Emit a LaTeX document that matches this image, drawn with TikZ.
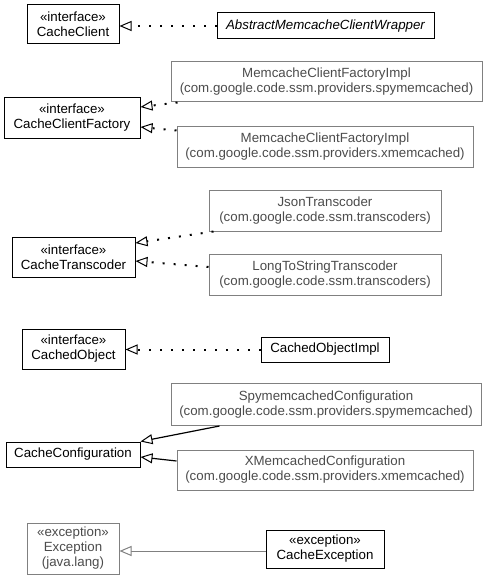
\documentclass[tikz,border=0pt]{standalone}
\usepackage{fontspec}
\setmainfont{Liberation Sans}
\usetikzlibrary{arrows.meta}
\begin{document}
\begin{tikzpicture}[x=1pt,y=-1pt,
  font=\fontsize{13.3}{15}\selectfont,
  cls/.style={draw=black,line width=1pt,inner sep=0pt,align=center,text=black},
  ext/.style={draw=black!50,line width=1pt,inner sep=0pt,align=center,text=black!70},
  tip/.style={-{Triangle[open,length=12pt,width=10pt,fill=white,line width=1pt]}},
  real/.style={draw=black,line width=2pt,dash pattern=on 2pt off 9pt,tip},
  gen/.style={draw=black,line width=1.2pt,tip},
  genx/.style={draw=black!50,line width=1pt,tip}]
\useasboundingbox[fill=white] (0,0) rectangle (485,583);
\node[cls,minimum width=92pt,minimum height=39pt] (cc) at (73,24.5) {«interface»\\CacheClient};
\node[cls,minimum width=217pt,minimum height=26pt] (abs) at (325.5,26) {\itshape AbstractMemcacheClientWrapper};
\node[ext,minimum width=311pt,minimum height=40pt] (mcfs) at (326.5,82) {MemcacheClientFactoryImpl\\(com.google.code.ssm.providers.spymemcached)};
\node[cls,minimum width=136pt,minimum height=40pt] (ccf) at (72,118) {«interface»\\CacheClientFactory};
\node[ext,minimum width=296pt,minimum height=41pt] (mcfx) at (325,146.5) {MemcacheClientFactoryImpl\\(com.google.code.ssm.providers.xmemcached)};
\node[ext,minimum width=232pt,minimum height=41pt] (json) at (325,210.5) {JsonTranscoder\\(com.google.code.ssm.transcoders)};
\node[cls,minimum width=123pt,minimum height=40pt] (ct) at (73.5,257) {«interface»\\CacheTranscoder};
\node[ext,minimum width=232pt,minimum height=41pt] (lts) at (325,274.5) {LongToStringTranscoder\\(com.google.code.ssm.transcoders)};
\node[cls,minimum width=103pt,minimum height=40pt] (co) at (73.5,349) {«interface»\\CachedObject};
\node[cls,minimum width=128pt,minimum height=25pt] (coi) at (325,349.5) {CachedObjectImpl};
\node[ext,minimum width=310pt,minimum height=42pt] (spyc) at (326,404.5) {SpymemcachedConfiguration\\(com.google.code.ssm.providers.spymemcached)};
\node[cls,minimum width=134pt,minimum height=25pt] (conf) at (73,454.5) {CacheConfiguration};
\node[ext,minimum width=296pt,minimum height=40pt] (xc) at (325,470) {XMemcachedConfiguration\\(com.google.code.ssm.providers.xmemcached)};
\node[ext,minimum width=92pt,minimum height=51pt] (exc) at (73,548.5) {«exception»\\Exception\\(java.lang)};
\node[cls,minimum width=118pt,minimum height=38pt] (ce) at (325,549) {«exception»\\CacheException};
\draw[real] (abs.west) -- (abs.west -| cc.east);
\draw[real] ([xshift=7pt]mcfs.south west) -- ([yshift=11pt]ccf.east);
\draw[real] ([yshift=16pt]mcfx.west) -- ([yshift=-9pt]ccf.east);
\draw[real] ([xshift=5pt]json.south west) -- ([yshift=14pt]ct.east);
\draw[real] ([yshift=7.5pt]lts.west) -- ([yshift=-4pt]ct.east);
\draw[real] (coi.west) -- (coi.west -| co.east);
\draw[gen] ([xshift=49pt]spyc.south west) -- (conf.north east);
\draw[gen] ([yshift=9pt]xc.west) -- ([yshift=-2.5pt]conf.east);
\draw[genx] ([yshift=-2pt]ce.west) -- ([yshift=-2pt]ce.west -| exc.east);
\end{tikzpicture}
\end{document}
